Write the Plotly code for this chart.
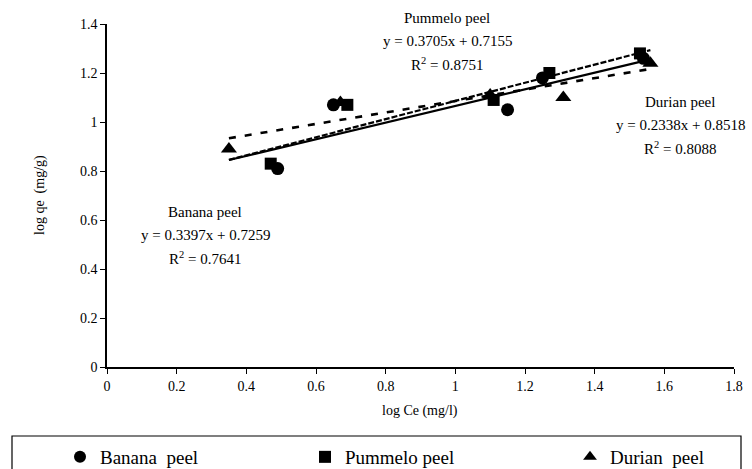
import plotly.graph_objects as go

series_names = ["Banana  peel", "Pummelo peel", "Durian  peel"]
banana_x = [0.49, 0.65, 1.15, 1.25, 1.54]
banana_y = [0.81, 1.07, 1.05, 1.18, 1.26]
pummelo_x = [0.47, 0.69, 1.11, 1.27, 1.53]
pummelo_y = [0.83, 1.07, 1.09, 1.20, 1.28]
durian_x = [0.35, 0.67, 1.10, 1.31, 1.56]
durian_y = [0.89, 1.08, 1.11, 1.10, 1.24]
slopes = [0.3397, 0.3705, 0.2338]
intercepts = [0.7259, 0.7155, 0.8518]
r2 = ["0.7641", "0.8751", "0.8088"]
fit_range = [0.35, 1.56]
x_ticks = [0, 0.2, 0.4, 0.6, 0.8, 1, 1.2, 1.4, 1.6, 1.8]
y_ticks = [0, 0.2, 0.4, 0.6, 0.8, 1, 1.2, 1.4]

FONT = "Liberation Serif"
xs = [banana_x, pummelo_x, durian_x]
ys = [banana_y, pummelo_y, durian_y]
symbols = ["circle", "square", "triangle-up"]
sizes = [13, 12, 14]
dashes = ["solid", "6px,2px", "7px,9px"]
widths = [2.2, 2.2, 2.6]
legend_ids = ["legend", "legend2", "legend3"]

fig = go.Figure()
for i in range(3):
    lx = fit_range
    ly = [slopes[i] * v + intercepts[i] for v in lx]
    fig.add_trace(go.Scatter(x=lx, y=ly, mode="lines",
                             line=dict(color="black", width=widths[i], dash=dashes[i]),
                             showlegend=False, hoverinfo="skip"))
for i in range(3):
    fig.add_trace(go.Scatter(x=xs[i], y=ys[i], mode="markers", name=series_names[i],
                             legend=legend_ids[i],
                             marker=dict(symbol=symbols[i], size=sizes[i], color="black")))

def eq(i):
    return f"y = {slopes[i]:.4f}x + {intercepts[i]:.4f}"

labels = [(205, 212, 0), (447, 18, 1), (680, 102, 2)]
W, H = 752, 469
L, R, T, B = 107, 18, 24, 102
pw, ph = W - L - R, H - T - B
def px2paper(x, y):
    return (x - L) / pw, (H - B - y) / ph

annotations = []
for cx, cy, i in labels:
    lines = [series_names[i].replace("  ", " "), eq(i), f"R<sup>2</sup> = {r2[i]}"]
    for k, t in enumerate(lines):
        px, py = px2paper(cx, cy + 23 * k)
        annotations.append(dict(x=px, y=py, xref="paper", yref="paper", text=t,
                                showarrow=False, xanchor="center", yanchor="middle",
                                font=dict(family=FONT, size=15, color="black")))

ax, ay = px2paper(420, 411)
annotations.append(dict(x=ax, y=ay, xref="paper", yref="paper", text="log Ce (mg/l)",
                        showarrow=False, xanchor="center", yanchor="middle",
                        font=dict(family=FONT, size=14, color="black")))
ax, ay = px2paper(40, 195)
annotations.append(dict(x=ax, y=ay, xref="paper", yref="paper", text="log qe  (mg/g)",
                        showarrow=False, xanchor="center", yanchor="middle", textangle=-90,
                        font=dict(family=FONT, size=14, color="black")))

bx0, by0 = px2paper(12, 436)
bx1, by1 = px2paper(741, 480)

legend_left_px = [60, 305, 570]
legend_layout = {}
for i, lid in enumerate(legend_ids):
    lxp, lyp = px2paper(legend_left_px[i], 457)
    legend_layout[lid] = dict(x=lxp, y=lyp, xanchor="left", yanchor="middle",
                              bgcolor="rgba(0,0,0,0)", borderwidth=0,
                              font=dict(family=FONT, size=19, color="black"),
                              itemsizing="constant", itemwidth=30)

fig.update_layout(
    width=W, height=H,
    margin=dict(l=L, r=R, t=T, b=B, autoexpand=False),
    paper_bgcolor="white", plot_bgcolor="white",
    font=dict(family=FONT, size=14, color="black"),
    xaxis=dict(range=[0, 1.8], tickvals=x_ticks, ticktext=[f"{v:g}" for v in x_ticks],
               showgrid=False, zeroline=False, showline=True, linecolor="black", linewidth=1.5,
               ticks="outside", ticklen=5, tickcolor="black", tickfont=dict(family=FONT, size=14)),
    yaxis=dict(range=[0, 1.4], tickvals=y_ticks, ticktext=[f"{v:g}" for v in y_ticks],
               showgrid=False, zeroline=False, showline=True, linecolor="black", linewidth=1.5,
               ticks="outside", ticklen=5, tickcolor="black", tickfont=dict(family=FONT, size=14)),
    annotations=annotations,
    shapes=[dict(type="rect", xref="paper", yref="paper", x0=bx0, y0=by0, x1=bx1, y1=by1,
                 line=dict(color="black", width=1.2), fillcolor="rgba(0,0,0,0)", layer="above")],
    **legend_layout,
)
fig.write_html("out.html")
